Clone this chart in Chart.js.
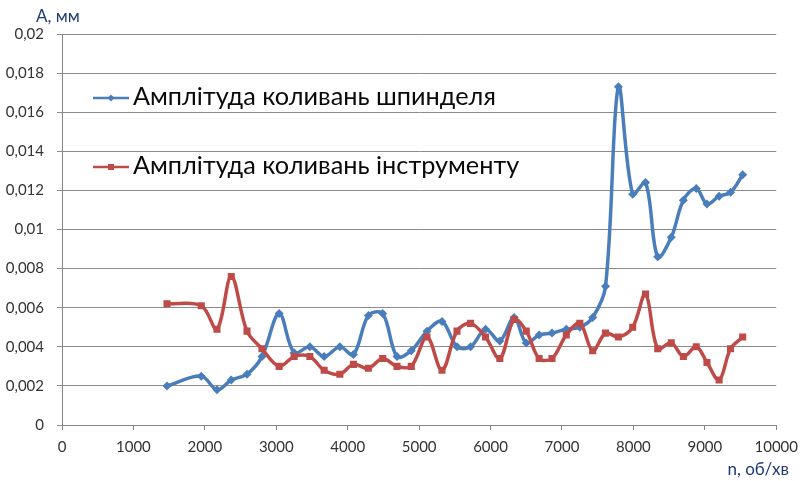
<!DOCTYPE html>
<html><head><meta charset="utf-8">
<script src="https://cdn.jsdelivr.net/npm/chart.js@4.4.0/dist/chart.umd.min.js"></script>
<style>html,body{margin:0;padding:0;background:#fff}#wrap{width:806px;height:481px}</style>
</head><body><div id="wrap"><canvas id="c" width="806" height="481"></canvas></div>
<script>
const rpm = [1470,1950,2170,2370,2590,2800,3040,3250,3470,3670,3890,4080,4290,4490,4690,4890,5110,5320,5530,5720,5930,6130,6330,6500,6680,6860,7060,7250,7430,7610,7790,7990,8170,8340,8530,8700,8880,9030,9200,9360,9530];
const spindle = [0.0020,0.0025,0.0018,0.0023,0.0026,0.0035,0.0057,0.0037,0.0040,0.0035,0.0040,0.0036,0.0056,0.0057,0.0035,0.0038,0.0048,0.0053,0.0040,0.0040,0.0049,0.0043,0.0055,0.0042,0.0046,0.0047,0.0049,0.0050,0.0055,0.0071,0.0173,0.0118,0.0124,0.0086,0.0096,0.0115,0.0121,0.0113,0.0117,0.0119,0.0128];
const tool = [0.0062,0.0061,0.0049,0.0076,0.0048,0.0039,0.0030,0.0035,0.0035,0.0028,0.0026,0.0031,0.0029,0.0034,0.0030,0.0030,0.0045,0.0028,0.0048,0.0052,0.0045,0.0034,0.0054,0.0048,0.0034,0.0034,0.0046,0.0052,0.0038,0.0047,0.0045,0.0050,0.0067,0.0039,0.0042,0.0035,0.0040,0.0032,0.0023,0.0039,0.0045];
const seriesNames = ['Амплітуда коливань шпинделя','Амплітуда коливань інструменту'];
const yTickLabels = ['0','0,002','0,004','0,006','0,008','0,01','0,012','0,014','0,016','0,018','0,02'];
const xTickLabels = ['0','1000','2000','3000','4000','5000','6000','7000','8000','9000','10000'];
const yTitle = 'А, мм';
const xTitle = 'n, об/хв';

const BLUE = '#4A7EBB', RED = '#BE4B48', FONT = 'Lato';
Chart.defaults.font.family = FONT;

const extras = {
  id: 'extras',
  afterDraw(chart) {
    const ctx = chart.ctx;
    ctx.save();
    // axis titles
    ctx.fillStyle = '#1F3B73';
    ctx.font = '17px ' + FONT;
    ctx.textBaseline = 'alphabetic';
    ctx.textAlign = 'left';
    ctx.fillText(yTitle, 36, 22);
    ctx.textAlign = 'right';
    ctx.fillText(xTitle, 789, 475);
    // legend
    let size = 26;
    ctx.font = size + 'px ' + FONT;
    size = size * 363 / ctx.measureText(seriesNames[0]).width;
    ctx.font = size.toFixed(2) + 'px ' + FONT;
    ctx.textAlign = 'left';
    const rows = [{y: 98, c: BLUE, s: 'd'}, {y: 167, c: RED, s: 'r'}];
    rows.forEach((r, i) => {
      ctx.strokeStyle = r.c; ctx.fillStyle = r.c; ctx.lineWidth = 2.5;
      ctx.beginPath(); ctx.moveTo(93, r.y); ctx.lineTo(129, r.y); ctx.stroke();
      ctx.beginPath();
      if (r.s === 'd') { ctx.moveTo(107.5, r.y); ctx.lineTo(111, r.y - 3.5); ctx.lineTo(114.5, r.y); ctx.lineTo(111, r.y + 3.5); ctx.closePath(); }
      else { ctx.rect(108, r.y - 3, 6, 6); }
      ctx.fill();
      ctx.fillStyle = '#0a0a0a';
      ctx.fillText(seriesNames[i], 133, r.y + 7);
    });
    ctx.restore();
  }
};

new Chart(document.getElementById('c'), {
  type: 'line',
  data: {
    datasets: [
      { label: seriesNames[0], data: rpm.map((x, i) => ({x, y: spindle[i]})), borderColor: BLUE, backgroundColor: BLUE,
        borderWidth: 3.5, pointStyle: 'rectRot', pointRadius: 4.5, pointBorderWidth: 0, tension: 0.35, order: 1 },
      { label: seriesNames[1], data: rpm.map((x, i) => ({x, y: tool[i]})), borderColor: RED, backgroundColor: RED,
        borderWidth: 3.5, pointStyle: 'rect', pointRadius: 5, pointBorderWidth: 0, tension: 0.35, order: 0 }
    ]
  },
  options: {
    responsive: false, animation: false, devicePixelRatio: 1,
    layout: { padding: { top: 34, right: 24, left: 0, bottom: 0 } },
    plugins: { legend: { display: false }, tooltip: { enabled: false } },
    scales: {
      x: {
        type: 'linear', min: 0, max: 10000,
        ticks: { stepSize: 1000, color: '#333', font: { size: 15 }, padding: 8, maxRotation: 0,
          callback: (v) => xTickLabels[Math.round(v / 1000)] },
        grid: { drawOnChartArea: false, drawTicks: true, tickLength: 5, color: '#868686' },
        border: { display: true, color: '#868686' },
        afterFit: (s) => { s.height = 56; }
      },
      y: {
        min: 0, max: 0.02,
        ticks: { stepSize: 0.002, color: '#333', font: { size: 15 }, padding: 13,
          callback: (v) => yTickLabels[Math.round(v / 0.002)] },
        grid: { color: '#8c8c8c', tickLength: 5, drawTicks: true },
        border: { display: true, color: '#868686' },
        afterFit: (s) => { s.width = 62; }
      }
    }
  },
  plugins: [extras]
});
</script></body></html>
